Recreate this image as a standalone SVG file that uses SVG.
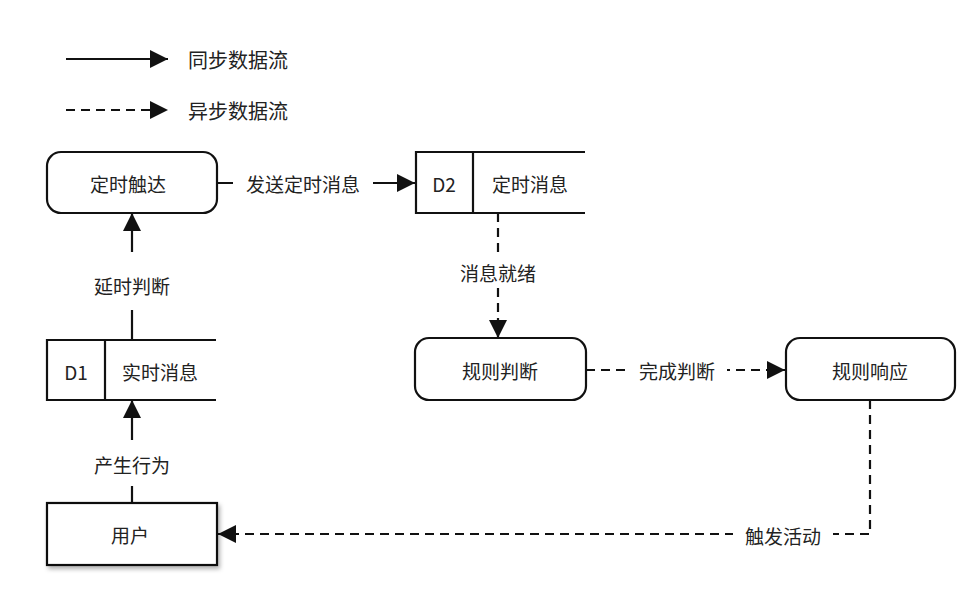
<svg xmlns="http://www.w3.org/2000/svg" width="978" height="616" viewBox="0 0 978 616">
<style>
text{font-family:"Noto Sans CJK SC","Liberation Sans",sans-serif;font-size:19px;fill:#222;text-anchor:middle;dominant-baseline:central}
.leg{font-size:20px}
.box{fill:#fff;stroke:#111;stroke-width:2.2}
.ln{fill:none;stroke:#111;stroke-width:2.2}
.dash{stroke-dasharray:9 6}
.lbl{fill:#fff}
</style>
<defs>
<marker id="ahb" viewBox="0 0 10 10" refX="10" refY="5" markerWidth="18" markerHeight="18" markerUnits="userSpaceOnUse" orient="auto">
<path d="M0,0 L10,5 L0,10 z" fill="#111"/>
</marker>
<filter id="sh" x="-10%" y="-10%" width="130%" height="140%">
<feDropShadow dx="2" dy="3" stdDeviation="2" flood-color="#000" flood-opacity="0.3"/>
</filter>
</defs>
<g id="legend">
<line class="ln" x1="66" y1="59" x2="168" y2="59" marker-end="url(#ahb)"/>
<text class="leg" x="238" y="59">同步数据流</text>
<line class="ln dash" x1="66" y1="110" x2="168" y2="110" marker-end="url(#ahb)"/>
<text class="leg" x="238" y="110">异步数据流</text>
</g>
<g id="connectors">
<line class="ln" x1="217" y1="183" x2="415" y2="183" marker-end="url(#ahb)"/>
<rect class="lbl" x="233" y="170" width="140" height="26"/>
<text x="303" y="183">发送定时消息</text>
<line class="ln dash" x1="498" y1="213" x2="498" y2="338" marker-end="url(#ahb)"/>
<rect class="lbl" x="454" y="257" width="88" height="30"/>
<text x="498" y="272">消息就绪</text>
<line class="ln dash" x1="586" y1="370" x2="785" y2="370" marker-end="url(#ahb)"/>
<rect class="lbl" x="627" y="357" width="100" height="26"/>
<text x="677" y="370">完成判断</text>
<path class="ln dash" d="M870,400 V534 H218" marker-end="url(#ahb)"/>
<rect class="lbl" x="733" y="521" width="100" height="26"/>
<text x="783" y="535">触发活动</text>
<line class="ln" x1="132" y1="503" x2="132" y2="400" marker-end="url(#ahb)"/>
<rect class="lbl" x="80" y="440" width="104" height="46"/>
<text x="132" y="464">产生行为</text>
<line class="ln" x1="132" y1="340" x2="132" y2="213" marker-end="url(#ahb)"/>
<rect class="lbl" x="80" y="252" width="104" height="58"/>
<text x="132" y="285">延时判断</text>
</g>
<g id="n-dingshi">
<rect class="box" x="47" y="152" width="170" height="61" rx="14"/>
<text x="128" y="183">定时触达</text>
</g>
<g id="n-d2">
<path class="ln" d="M585,152 H416 V213 H585 M473,152 V213"/>
<text x="444" y="183">D2</text>
<text x="530" y="183">定时消息</text>
</g>
<g id="n-guizepanduan">
<rect class="box" x="415" y="338" width="171" height="62" rx="14"/>
<text x="500" y="370">规则判断</text>
</g>
<g id="n-guizexiangying">
<rect class="box" x="786" y="338" width="169" height="62" rx="14"/>
<text x="870" y="370">规则响应</text>
</g>
<g id="n-d1">
<path class="ln" d="M216,340 H47 V400 H216 M105,340 V400"/>
<text x="76" y="371">D1</text>
<text x="160" y="371">实时消息</text>
</g>
<g id="n-user">
<rect class="box" x="47" y="503" width="170" height="62" filter="url(#sh)"/>
<text x="130" y="534">用户</text>
</g>
</svg>
